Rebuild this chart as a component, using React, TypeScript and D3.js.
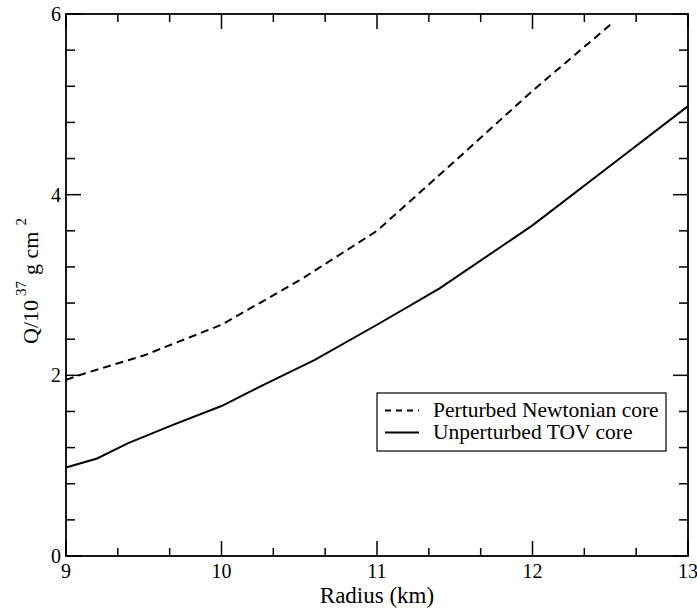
import React from "react";
import * as d3 from "d3";

const xTicks = [9, 10, 11, 12, 13];
const yTicks = [0, 2, 4, 6];
const newtonR = [9, 9.1, 9.5, 10, 10.5, 11, 11.5, 12, 12.5];
const newtonQ = [1.95, 2.01, 2.22, 2.56, 3.05, 3.6, 4.37, 5.15, 5.88];
const tovR = [9, 9.2, 9.4, 9.7, 10, 10.3, 10.6, 11.0, 11.4, 12, 12.5, 13];
const tovQ = [0.98, 1.08, 1.25, 1.46, 1.66, 1.92, 2.17, 2.56, 2.96, 3.66, 4.32, 4.98];
const legendLabels = ["Perturbed Newtonian core", "Unperturbed TOV core"];

const W = 697, H = 611;
const L = 66, R = 688, T = 14, B = 556;
const FONT = '"Liberation Serif", "Times New Roman", Times, "DejaVu Serif", serif';

export default function App() {
  const x = d3.scaleLinear().domain([9, 13]).range([L, R]);
  const y = d3.scaleLinear().domain([0, 6]).range([B, T]);
  const line = d3.line<[number, number]>().x(d => x(d[0])).y(d => y(d[1]));
  const newton = newtonR.map((r, i) => [r, newtonQ[i]] as [number, number]);
  const tov = tovR.map((r, i) => [r, tovQ[i]] as [number, number]);

  const xMinor = d3.range(9, 13.001, 1 / 3).filter(v => Math.abs(v - Math.round(v)) > 1e-6);
  const yMinor = d3.range(0, 6.001, 0.4).filter(v => Math.abs(v / 2 - Math.round(v / 2)) > 1e-6);
  const stroke = "#000";
  const tf = { fontFamily: FONT };

  return (
    <svg width={W} height={H} style={{ position: "absolute", left: 0, top: 0, background: "#fff" }}>
      <rect x={0} y={0} width={W} height={H} fill="#fff" />
      <g stroke={stroke} strokeWidth={1.5}>
        {xTicks.map(t => (
          <g key={"xt" + t}>
            <line x1={x(t)} x2={x(t)} y1={B} y2={B - 15} />
            <line x1={x(t)} x2={x(t)} y1={T} y2={T + 15} />
          </g>
        ))}
        {xMinor.map((t, i) => (
          <g key={"xm" + i}>
            <line x1={x(t)} x2={x(t)} y1={B} y2={B - 8} />
            <line x1={x(t)} x2={x(t)} y1={T} y2={T + 8} />
          </g>
        ))}
        {yTicks.map(t => (
          <g key={"yt" + t}>
            <line x1={L} x2={L + 15} y1={y(t)} y2={y(t)} />
            <line x1={R} x2={R - 15} y1={y(t)} y2={y(t)} />
          </g>
        ))}
        {yMinor.map((t, i) => (
          <g key={"ym" + i}>
            <line x1={L} x2={L + 9} y1={y(t)} y2={y(t)} />
            <line x1={R} x2={R - 9} y1={y(t)} y2={y(t)} />
          </g>
        ))}
        <rect x={L} y={T} width={R - L} height={B - T} fill="none" strokeWidth={1.8} />
      </g>
      <path d={line(newton) || ""} fill="none" stroke={stroke} strokeWidth={2} strokeDasharray="8,5" />
      <path d={line(tov) || ""} fill="none" stroke={stroke} strokeWidth={2} />

      <g style={tf} fontSize={20} fill="#000">
        {xTicks.map(t => (
          <text key={"xl" + t} x={x(t)} y={B + 22} textAnchor="middle">{t}</text>
        ))}
        {yTicks.map(t => (
          <text key={"yl" + t} x={L - 5} y={y(t) + 7} textAnchor="end">{t}</text>
        ))}
      </g>
      <text x={(L + R) / 2} y={603} textAnchor="middle" style={tf} fontSize={23}>Radius (km)</text>
      <text transform={`translate(38, ${(T + B) / 2 - 4}) rotate(-90)`} textAnchor="middle" style={tf} fontSize={22}>
        <tspan>Q/10</tspan>
        <tspan dy={-12} fontSize={15} dx={4}>37</tspan>
        <tspan dy={12} dx={6}>g cm</tspan>
        <tspan dy={-12} fontSize={15} dx={6}>2</tspan>
      </text>

      <g>
        <rect x={377} y={393} width={289} height={58} fill="#fff" stroke={stroke} strokeWidth={1.2} />
        <line x1={385} x2={419} y1={410.5} y2={410.5} stroke={stroke} strokeWidth={2} strokeDasharray="6,5" />
        <line x1={385} x2={419} y1={432.5} y2={432.5} stroke={stroke} strokeWidth={2} />
        <text x={433} y={417} style={tf} fontSize={21.5}>{legendLabels[0]}</text>
        <text x={433} y={439} style={tf} fontSize={21.5}>{legendLabels[1]}</text>
      </g>
    </svg>
  );
}
